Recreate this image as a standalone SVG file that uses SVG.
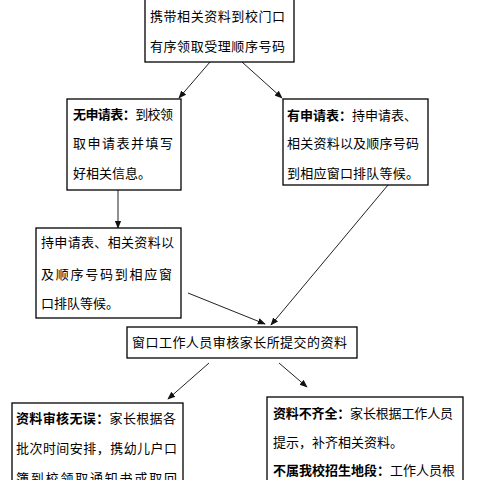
<svg xmlns="http://www.w3.org/2000/svg" width="480" height="480" viewBox="0 0 480 480">
<defs>
<marker id="ah" viewBox="0 0 10 10" refX="9" refY="5" markerWidth="8" markerHeight="8" orient="auto" markerUnits="userSpaceOnUse">
<path d="M0,1 L10,5 L0,9 z" fill="#111"/>
</marker>
</defs>
<style>
.box{fill:#fff;stroke:#000;stroke-width:1.3}
.t{font-family:"Noto Sans CJK SC","Noto Sans",sans-serif;font-size:13px;fill:#000}
.b{font-weight:bold}
.c{stroke:#222;stroke-width:1;fill:none;marker-end:url(#ah)}
</style>
<rect width="480" height="480" fill="#fff"/>
<g id="connectors">
<line class="c" x1="210" y1="62" x2="179" y2="98"/>
<line class="c" x1="242" y1="62" x2="282" y2="98"/>
<line class="c" x1="118" y1="190" x2="118" y2="228"/>
<line class="c" x1="388" y1="185" x2="271" y2="325"/>
<line class="c" x1="188" y1="293" x2="265" y2="324"/>
<line class="c" x1="209" y1="363" x2="168" y2="399"/>
<line class="c" x1="279" y1="363" x2="307" y2="387"/>
</g>
<g id="n1">
<rect class="box" x="145" y="-1" width="149" height="63"/>
<text class="t" x="150" y="21" textLength="135" lengthAdjust="spacing">携带相关资料到校门口</text>
<text class="t" x="150" y="51" textLength="135" lengthAdjust="spacing">有序领取受理顺序号码</text>
</g>
<g id="n2">
<rect class="box" x="67" y="99" width="114" height="91"/>
<text class="t" x="73" y="119" textLength="100" lengthAdjust="spacing"><tspan class="b">无申请表：</tspan>到校领</text>
<text class="t" x="73" y="148" textLength="100" lengthAdjust="spacing">取申请表并填写</text>
<text class="t" x="73" y="178">好相关信息。</text>
</g>
<g id="n3">
<rect class="box" x="283" y="99" width="145" height="86"/>
<text class="t" x="287" y="120" textLength="130" lengthAdjust="spacing"><tspan class="b">有申请表：</tspan>持申请表、</text>
<text class="t" x="287" y="148" textLength="132" lengthAdjust="spacing">相关资料以及顺序号码</text>
<text class="t" x="287" y="178" textLength="132" lengthAdjust="spacing">到相应窗口排队等候。</text>
</g>
<g id="n4">
<rect class="box" x="36" y="228" width="145" height="90"/>
<text class="t" x="41" y="247" textLength="133" lengthAdjust="spacing">持申请表、相关资料以</text>
<text class="t" x="41" y="279" textLength="131" lengthAdjust="spacing">及顺序号码到相应窗</text>
<text class="t" x="41" y="308">口排队等候。</text>
</g>
<g id="n5">
<rect class="box" x="127" y="327" width="230" height="31"/>
<text class="t" x="132" y="347" textLength="215" lengthAdjust="spacing">窗口工作人员审核家长所提交的资料</text>
</g>
<g id="n6">
<rect class="box" x="12" y="403" width="171" height="100"/>
<text class="t" x="16" y="423" textLength="160" lengthAdjust="spacing"><tspan class="b">资料审核无误：</tspan>家长根据各</text>
<text class="t" x="16" y="453" textLength="161" lengthAdjust="spacing">批次时间安排，携幼儿户口</text>
<text class="t" x="16" y="483" textLength="161" lengthAdjust="spacing">簿到校领取通知书或取回</text>
</g>
<g id="n7">
<rect class="box" x="267" y="397" width="196" height="106"/>
<text class="t" x="273" y="418" textLength="180" lengthAdjust="spacing"><tspan class="b">资料不齐全：</tspan>家长根据工作人员</text>
<text class="t" x="273" y="447">提示，补齐相关资料。</text>
<text class="t" x="273" y="475" textLength="182" lengthAdjust="spacing"><tspan class="b">不属我校招生地段：</tspan>工作人员根</text>
</g>
</svg>
